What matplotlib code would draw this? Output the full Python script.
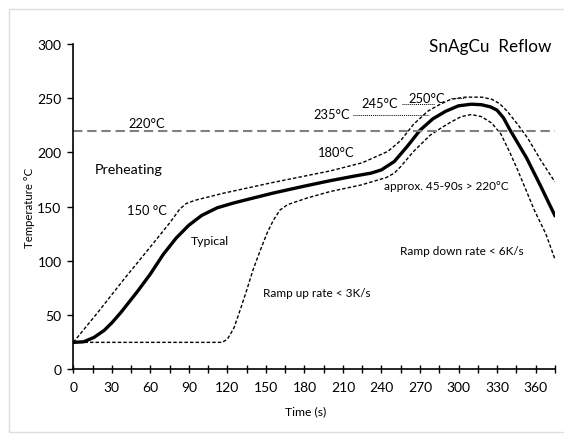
import numpy as np
import matplotlib
matplotlib.use("Agg")
import matplotlib.pyplot as plt
from matplotlib.patches import Rectangle

plt.rcParams["font.family"] = ["Lato", "DejaVu Sans"]

# typical profile (time s, temperature C)
typ_t = [0, 8, 16, 24, 30, 37, 50, 60, 70, 80, 90, 100, 112, 125, 140, 156,
         180, 200, 220, 232, 240, 250, 260, 270, 280, 290, 300, 310, 318, 325,
         330, 335, 340, 353, 364, 375]
typ_T = [25, 25.5, 29.5, 36, 43, 52.5, 72, 88, 106, 121, 133, 142, 149, 153.5,
         158, 162.7, 169, 174, 178.5, 181, 184, 191.7, 205.5, 220.5, 231, 238,
         243, 244.5, 244, 242, 239, 232, 221, 195, 169, 142]

# upper limit
up_t = [0, 20, 40, 60, 75, 83, 88, 95, 117, 156, 200, 225, 245, 255, 265, 276,
        285, 294, 305, 318, 326, 332, 338, 346, 354, 364, 375]
up_T = [25, 54, 84, 113, 135, 148, 153, 156, 162.5, 172.5, 183, 190.5, 201,
        211, 226, 238, 244, 249, 251, 251, 249, 245, 238, 226, 213, 193, 173]

# lower limit
lo_t = [0, 116, 120, 125, 130, 135, 140, 146, 151, 156, 161, 167, 182, 200,
        224, 244, 250, 255, 265, 278, 287, 294, 302, 310, 318, 326, 333, 340,
        346, 352, 359, 368, 375]
lo_T = [25, 25, 28, 38, 55, 73, 92, 111, 126, 138, 147, 152, 158, 164, 170,
        177, 181, 187, 201, 216, 223, 228, 233, 235, 233, 227, 217, 200, 184,
        167, 147, 125, 102]

liquidus = 220
# reference levels with their label spots and line extents
ref_T = [235, 245, 250]
ref_label_t = [201, 239, 275]
ref_line_t0 = [218, 256, 294]
ref_line_t1 = [277, 282, 305]

fig = plt.figure(figsize=(5.64, 4.35), dpi=100)
fig.patches.append(Rectangle((9 / 564, 2 / 435), 560 / 564, 423 / 435,
                             transform=fig.transFigure, fill=False,
                             edgecolor="#dddddd", linewidth=1))
ax = fig.add_axes([0.130, 0.1483, 0.8537, 0.7483])

ax.plot(typ_t, typ_T, color="black", lw=2.4, solid_joinstyle="round")
ax.plot(up_t, up_T, color="black", lw=1.0, linestyle=(0, (2.5, 1.5)))
ax.plot(lo_t, lo_T, color="black", lw=1.0, linestyle=(0, (2.5, 1.5)))
ax.axhline(liquidus, color="#808080", lw=1.5, linestyle=(0, (4.5, 2.3)))

for T, tl, t0, t1 in zip(ref_T, ref_label_t, ref_line_t0, ref_line_t1):
    ax.plot([t0, t1], [T, T], color="black", lw=0.7, linestyle=(0, (1, 1)))
    ax.text(tl, T + 0.5, f"{T}°C", ha="center", va="center", fontsize=9.3)

ax.text(57, 227, "220°C", ha="center", va="center", fontsize=9.3)
ax.text(16.5, 185, "Preheating", ha="left", va="center", fontsize=10.3)
ax.text(57, 147, "150 °C", ha="center", va="center", fontsize=9.3)
ax.text(106, 119, "Typical", ha="center", va="center", fontsize=8.8)
ax.text(205, 200, "180°C", ha="center", va="center", fontsize=9.3)
ax.text(372.5, 298, "SnAgCu  Reflow", ha="right", va="center", fontsize=12.3)
ax.text(242, 169.5, "approx. 45-90s > 220°C", ha="left", va="center", fontsize=8.5)
ax.text(148, 71, "Ramp up rate < 3K/s", ha="left", va="center", fontsize=8.5)
ax.text(254.5, 109.5, "Ramp down rate < 6K/s", ha="left", va="center", fontsize=8.5)

ax.set_xlim(0, 375)
ax.set_ylim(0, 300)
xt = np.arange(0, 376, 15)
ax.set_xticks(xt)
ax.set_xticklabels([str(v) if v % 30 == 0 and v <= 360 else "" for v in xt])
ax.set_yticks(np.arange(0, 301, 50))
ax.tick_params(axis="x", direction="inout", length=6, width=1, pad=5, labelsize=10)
ax.tick_params(axis="y", direction="out", length=4, width=1, pad=4.5, labelsize=10)

for side in ["top", "right"]:
    ax.spines[side].set_visible(False)
for side in ["left", "bottom"]:
    ax.spines[side].set_linewidth(1.2)
ax.spines["left"].set_bounds(0, 300)

ax.set_xlabel("Time (s)", fontsize=8.7)
ax.set_ylabel("Temperature °C", fontsize=8.2)
ax.xaxis.set_label_coords((306 - 73.3) / 481.5, -(412.3 - 370.5) / 325.5)
ax.yaxis.set_label_coords(-(73.3 - 29) / 481.5, (370.5 - 207.5) / 325.5)
ax.xaxis.label.set_va("center")
ax.yaxis.label.set_va("center")

fig.savefig("out.png", dpi=100)
